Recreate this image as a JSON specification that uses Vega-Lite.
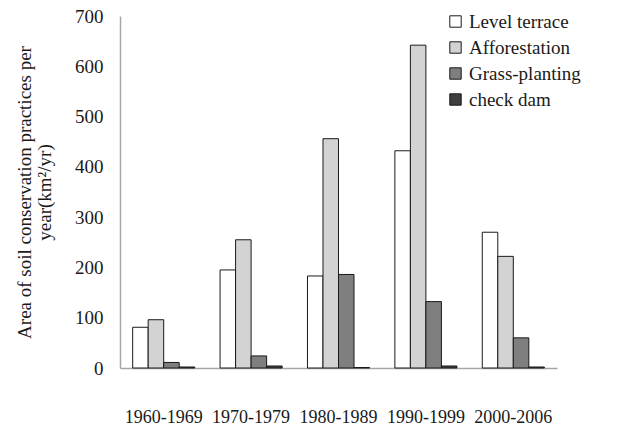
{
  "$schema": "https://vega.github.io/schema/vega-lite/v6.json",
  "autosize": "none",
  "width": 437,
  "height": 352,
  "padding": {"left": 120, "top": 16, "right": 84, "bottom": 64},
  "background": "white",
  "config": {"view": {"stroke": null}, "font": "Liberation Serif"},
  "data": {"values": [
    {"period": "1960-1969", "practice": "Level terrace", "area": 81},
    {"period": "1960-1969", "practice": "Afforestation", "area": 96},
    {"period": "1960-1969", "practice": "Grass-planting", "area": 11},
    {"period": "1960-1969", "practice": "check dam", "area": 2},
    {"period": "1970-1979", "practice": "Level terrace", "area": 195},
    {"period": "1970-1979", "practice": "Afforestation", "area": 255},
    {"period": "1970-1979", "practice": "Grass-planting", "area": 24},
    {"period": "1970-1979", "practice": "check dam", "area": 4},
    {"period": "1980-1989", "practice": "Level terrace", "area": 183},
    {"period": "1980-1989", "practice": "Afforestation", "area": 456},
    {"period": "1980-1989", "practice": "Grass-planting", "area": 186},
    {"period": "1980-1989", "practice": "check dam", "area": 1},
    {"period": "1990-1999", "practice": "Level terrace", "area": 432},
    {"period": "1990-1999", "practice": "Afforestation", "area": 642},
    {"period": "1990-1999", "practice": "Grass-planting", "area": 132},
    {"period": "1990-1999", "practice": "check dam", "area": 4},
    {"period": "2000-2006", "practice": "Level terrace", "area": 270},
    {"period": "2000-2006", "practice": "Afforestation", "area": 222},
    {"period": "2000-2006", "practice": "Grass-planting", "area": 60},
    {"period": "2000-2006", "practice": "check dam", "area": 2}
  ]},
  "mark": {"type": "bar", "stroke": "#1a1a1a", "strokeWidth": 1},
  "encoding": {
    "x": {
      "field": "period", "type": "nominal",
      "scale": {"paddingInner": 0.29, "paddingOuter": 0.145},
      "axis": {
        "title": null, "labelAngle": 0, "labelFont": "Liberation Serif", "labelFontSize": 18, "labelColor": "#1a1a1a",
        "labelPadding": 40, "ticks": false, "domainColor": "#a6a6a6", "domainWidth": 1.5
      }
    },
    "xOffset": {"field": "practice", "type": "nominal", "sort": ["Level terrace", "Afforestation", "Grass-planting", "check dam"], "scale": {"paddingInner": 0, "paddingOuter": 0}},
    "y": {
      "field": "area", "type": "quantitative",
      "scale": {"domain": [0, 700], "nice": false},
      "axis": {
        "values": [0, 100, 200, 300, 400, 500, 600, 700],
        "title": ["Area of soil conservation practices per", "year(km²/yr)"],
        "titleFont": "Liberation Serif", "titleFontSize": 19, "titleFontWeight": "normal", "titleColor": "#1a1a1a", "titlePadding": 20, "titleLineHeight": 20,
        "labelFont": "Liberation Serif", "labelFontSize": 19, "labelColor": "#1a1a1a", "labelPadding": 17,
        "grid": false, "ticks": false, "domainColor": "#a6a6a6", "domainWidth": 1.5
      }
    },
    "fill": {
      "field": "practice", "type": "nominal",
      "sort": ["Level terrace", "Afforestation", "Grass-planting", "check dam"],
      "scale": {"domain": ["Level terrace", "Afforestation", "Grass-planting", "check dam"], "range": ["#ffffff", "#d3d3d3", "#7f7f7f", "#3f3f3f"]},
      "legend": {
        "title": null, "orient": "none", "legendX": 326, "legendY": -4,
        "symbolType": "square", "symbolSize": 130, "symbolStrokeColor": "#1a1a1a", "symbolStrokeWidth": 1,
        "labelFont": "Liberation Serif", "labelFontSize": 19, "labelColor": "#1a1a1a", "rowPadding": 6, "labelOffset": 4
      }
    }
  }
}
